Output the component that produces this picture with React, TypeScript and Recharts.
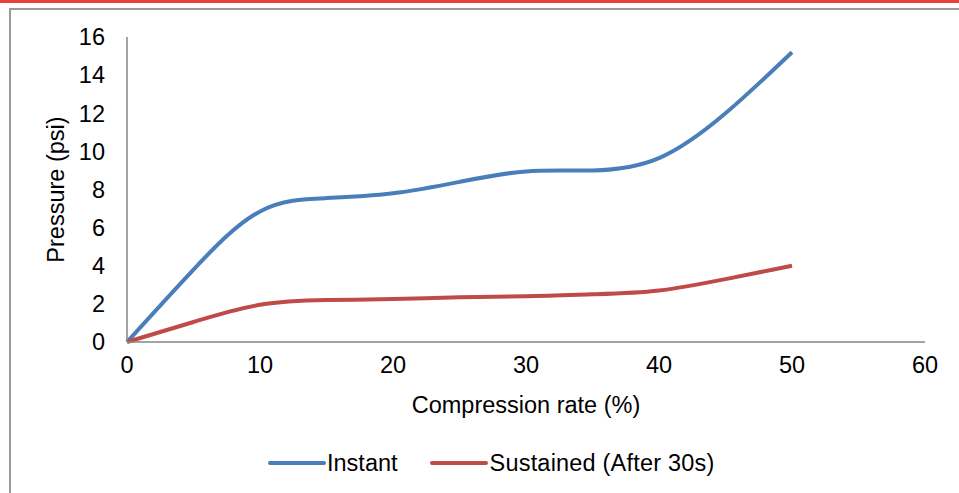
import React from "react";
import { LineChart, Line, XAxis, YAxis, Legend } from "recharts";

const compression = [0, 5, 10, 15, 20, 25, 30, 35, 40, 45, 50];
const instant = [0, 3.8, 6.85, 7.55, 7.8, 8.4, 8.95, 9.0, 9.65, 12.0, 15.2];
const sustained = [0, 1.05, 1.95, 2.2, 2.25, 2.35, 2.4, 2.5, 2.7, 3.3, 4.0];
const xTicks = [0, 10, 20, 30, 40, 50, 60];
const yTicks = [0, 2, 4, 6, 8, 10, 12, 14, 16];

const data = compression.map((c, i) => ({ c, instant: instant[i], sustained: sustained[i] }));

const FONT = "'Liberation Sans', Arial, sans-serif";
const FS = 23.5;
const BLUE = "#4A7EBB";
const RED = "#BE4B48";

const renderLegend = () => (
  <div style={{ display: "flex", justifyContent: "flex-start", alignItems: "center", paddingLeft: 268, fontFamily: FONT, fontSize: FS, color: "#000", lineHeight: "26px" }}>
    <div style={{ display: "flex", alignItems: "center", marginRight: 32 }}>
      <svg width={58} height={8}><line x1={2} y1={4} x2={56} y2={4} stroke={BLUE} strokeWidth={4} strokeLinecap="round" /></svg>
      <span style={{ marginLeft: 1 }}>Instant</span>
    </div>
    <div style={{ display: "flex", alignItems: "center" }}>
      <svg width={58} height={8}><line x1={2} y1={4} x2={56} y2={4} stroke={RED} strokeWidth={4} strokeLinecap="round" /></svg>
      <span style={{ marginLeft: 2, letterSpacing: 0.2 }}>Sustained (After 30s)</span>
    </div>
  </div>
);

export default function App() {
  return (
    <div style={{ position: "absolute", left: 0, top: 0, width: 959, height: 493, background: "#fff", overflow: "hidden" }}>
      <div style={{ position: "absolute", left: 0, top: 0, width: 959, height: 3, background: "#E8403A" }} />
      <div style={{ position: "absolute", left: 9, top: 8, width: 960, height: 500, borderLeft: "2px solid #9a9a9a", borderTop: "2px solid #9a9a9a" }} />
      <div style={{ position: "absolute", left: 0, top: 0 }}>
        <LineChart width={959} height={493} data={data} margin={{ top: 37, right: 34, left: 0, bottom: 0 }}>
          <XAxis
            dataKey="c"
            type="number"
            domain={[0, 60]}
            ticks={xTicks}
            tickLine={false}
            axisLine={{ stroke: "#868686", strokeWidth: 1.5 }}
            tick={{ fill: "#000", fontSize: FS, fontFamily: FONT }}
            tickMargin={8}
            height={125}
            label={{ value: "Compression rate (%)", position: "insideTop", offset: 54, fill: "#000", fontSize: FS, fontFamily: FONT }}
          />
          <YAxis
            type="number"
            domain={[0, 16]}
            ticks={yTicks}
            tickLine={false}
            axisLine={{ stroke: "#868686", strokeWidth: 1.5 }}
            tick={{ fill: "#000", fontSize: FS, fontFamily: FONT }}
            tickMargin={16}
            width={127}
            label={{ value: "Pressure (psi)", angle: -90, position: "insideLeft", offset: 56, fill: "#000", fontSize: FS, fontFamily: FONT, style: { textAnchor: "middle" } }}
          />
          <Line type="natural" dataKey="instant" name="Instant" stroke={BLUE} strokeWidth={4} dot={false} isAnimationActive={false} />
          <Line type="natural" dataKey="sustained" name="Sustained (After 30s)" stroke={RED} strokeWidth={4} dot={false} isAnimationActive={false} />
          <Legend content={renderLegend} wrapperStyle={{ position: "absolute", top: 450, left: 0, width: 959 }} />
        </LineChart>
      </div>
    </div>
  );
}
